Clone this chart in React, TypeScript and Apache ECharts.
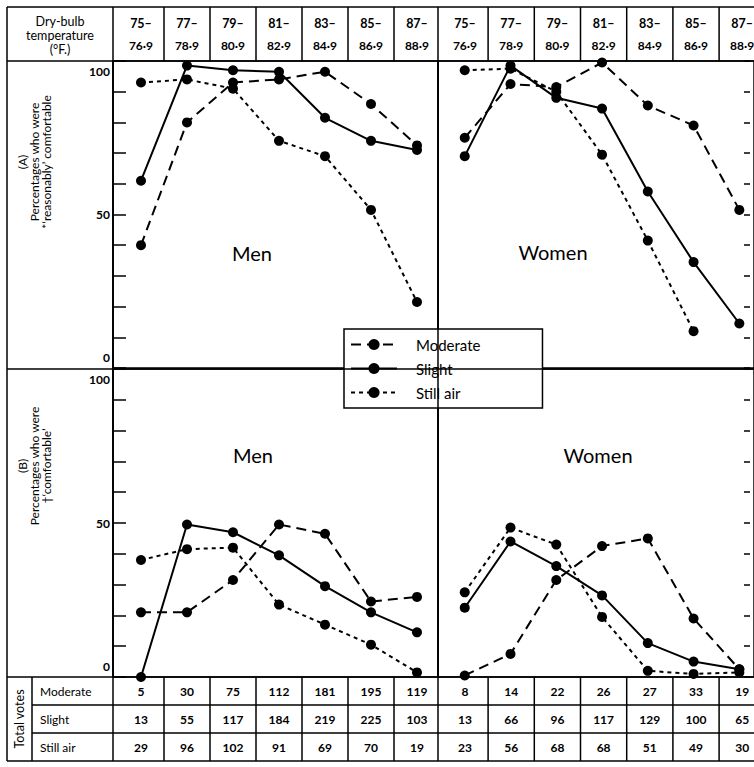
import React, { useEffect, useRef } from "react";
import * as echarts from "echarts";

// ---------- data ----------
const tempFrom = ["75–", "77–", "79–", "81–", "83–", "85–", "87–"];
const tempTo = ["76·9", "78·9", "80·9", "82·9", "84·9", "86·9", "88·9"];
const seriesNames = ["Moderate", "Slight", "Still air"];
const yTickLabels = [0, 50, 100];

// (A) percentages 'reasonably' comfortable
const menA_moderate = [40, 80, 93, 94, 96.5, 86, 72.5];
const menA_slight = [61, 98.5, 97, 96.5, 81.5, 74, 71];
const menA_still = [93, 94, 91, 74, 69, 51.5, 21.5];
const womenA_moderate = [75, 92.5, 91.5, 99.5, 85.5, 79, 51.5];
const womenA_slight = [69, 98.5, 88, 84.5, 57.5, 34.5, 14.5];
const womenA_still = [97, 97.5, 90, 69.5, 41.5, 12, null];

// (B) percentages 'comfortable'
const menB_moderate = [21, 21, 31.5, 49.5, 46.5, 24.5, 26];
const menB_slight = [0, 49.5, 47, 39.5, 29.5, 21, 14.5];
const menB_still = [38, 41.5, 42, 23.5, 17, 10.5, 1.5];
const womenB_moderate = [0.5, 7.5, 31.5, 42.5, 45, 19, 2.5];
const womenB_slight = [22.5, 44, 36, 26.5, 11, 5, 2.5];
const womenB_still = [27.5, 48.5, 43, 19.5, 2, 1, 1.5];

// Total votes
const menVotesModerate = [5, 30, 75, 112, 181, 195, 119];
const menVotesSlight = [13, 55, 117, 184, 219, 225, 103];
const menVotesStill = [29, 96, 102, 91, 69, 70, 19];
const womenVotesModerate = [8, 14, 22, 26, 27, 33, 19];
const womenVotesSlight = [13, 66, 96, 117, 129, 100, 65];
const womenVotesStill = [23, 56, 68, 68, 51, 49, 30];

// ---------- layout ----------
const FONT = "Lato, 'Open Sans', 'DejaVu Sans', sans-serif";
const LW = 1.5;
const MEN = { left: 113, right: 438, x0: 141, pitch: 46 };
const WOMEN = { left: 438, right: 757, x0: 465, pitch: 46.2 };
const ROW_A = { top: 61, bottom: 368 };
const ROW_B = { top: 369, bottom: 677 };
const LINE_TYPES: any[] = [[10, 6], "solid", [4, 4]];

const colX = (p: typeof MEN, i: number) => p.x0 + p.pitch * i;

export default function App() {
  const ref = useRef<HTMLDivElement>(null);
  useEffect(() => {
    document.body.style.margin = "0";
    const chart = echarts.init(ref.current!, undefined, { renderer: "svg" });

    const panels = [
      { p: MEN, r: ROW_A, side: "left", data: [menA_moderate, menA_slight, menA_still] },
      { p: WOMEN, r: ROW_A, side: "right", data: [womenA_moderate, womenA_slight, womenA_still] },
      { p: MEN, r: ROW_B, side: "left", data: [menB_moderate, menB_slight, menB_still] },
      { p: WOMEN, r: ROW_B, side: "right", data: [womenB_moderate, womenB_slight, womenB_still] },
    ];

    const grid = panels.map((pn) => ({
      left: pn.p.left,
      width: pn.p.right - pn.p.left,
      top: pn.r.top,
      height: pn.r.bottom - pn.r.top,
      show: true,
      borderColor: "#000",
      borderWidth: LW,
      backgroundColor: "transparent",
    }));

    const xAxis = panels.map((pn, g) => ({
      type: "value",
      gridIndex: g,
      min: -(pn.p.x0 - pn.p.left) / pn.p.pitch,
      max: (pn.p.right - pn.p.x0) / pn.p.pitch,
      show: false,
    }));

    const labelBase = { fontSize: 12, fontFamily: FONT, fontWeight: "bold", color: "#000" };
    const yAxis = panels.map((pn, g) => {
      const isLeft = pn.side === "left";
      return {
        type: "value",
        gridIndex: g,
        min: 0,
        max: 100,
        interval: 10,
        position: pn.side,
        offset: isLeft ? 0 : -4,
        axisLine: { show: isLeft, onZero: false, lineStyle: { color: "#000", width: LW } },
        axisTick: {
          show: true,
          inside: true,
          length: isLeft ? 13 : 6,
          lineStyle: { color: "#000", width: LW },
        },
        splitLine: { show: false },
        axisLabel: {
          show: isLeft,
          interval: 0,
          formatter: (v: number) => {
            if (!yTickLabels.includes(v)) return "";
            if (v === 0) return "{lo|" + v + "}";
            if (v === 100) return "{hi|" + v + "}";
            return "{mid|" + v + "}";
          },
          rich: {
            lo: { ...labelBase, padding: [0, 0, 5, 0] },
            hi: { ...labelBase, padding: [4, 0, 0, 0] },
            mid: { ...labelBase },
          },
          ...labelBase,
          margin: 3,
          verticalAlignMinLabel: "bottom",
          verticalAlignMaxLabel: "top",
        },
      };
    });

    const series: any[] = [];
    panels.forEach((pn, g) => {
      pn.data.forEach((vals, k) => {
        series.push({
          type: "line",
          name: seriesNames[k],
          xAxisIndex: g,
          yAxisIndex: g,
          data: vals.map((v, i) => (v == null ? null : [i, v])).filter((d) => d),
          symbol: "circle",
          symbolSize: 10,
          itemStyle: { color: "#000" },
          lineStyle: { color: "#000", width: 2, type: LINE_TYPES[k] },
          z: 3,
        });
      });
    });

    const graphic: any[] = [];
    const line = (x1: number, y1: number, x2: number, y2: number) =>
      graphic.push({ type: "line", shape: { x1, y1, x2, y2 }, style: { stroke: "#000", lineWidth: LW }, z: 20 });
    const text = (x: number, y: number, t: string, fs: number, extra: any = {}) =>
      graphic.push({
        type: "text",
        x,
        y,
        z: 21,
        style: { text: t, fontSize: fs, fontFamily: FONT, fill: "#000", align: "center", verticalAlign: "middle", ...extra.style },
        rotation: extra.rotation || 0,
      });

    // frame lines
    line(7, 7, 7, 761);
    line(7, 7, 762, 7);
    line(7, 61, 762, 61);
    line(7, 369, 762, 369);
    line(7, 677, 762, 677);
    line(32, 705, 762, 705);
    line(32, 733, 762, 733);
    line(7, 761, 762, 761);
    line(32, 677, 32, 761);
    line(113, 7, 113, 761);
    line(438, 7, 438, 761);

    [MEN, WOMEN].forEach((p) => {
      for (let i = 0; i < 6; i++) {
        const bx = p.x0 + p.pitch * (i + 0.5);
        line(bx, 7, bx, 61);
        line(bx, 677, bx, 761);
      }
    });

    // header
    text(60, 35, "Dry-bulb\ntemperature\n(°F.)", 12.5, { style: { lineHeight: 14 } });
    [MEN, WOMEN].forEach((p) => {
      for (let i = 0; i < 7; i++) {
        text(colX(p, i), 23, tempFrom[i], 12.5, { style: { fontWeight: "bold" } });
        text(colX(p, i), 45, tempTo[i], 12, { style: { fontWeight: "bold" } });
      }
    });

    // axis titles
    text(34, 162, "(A)\nPercentages who were\n*‘reasonably’ comfortable", 12, {
      rotation: Math.PI / 2,
      style: { lineHeight: 12 },
    });
    text(34, 466, "(B)\nPercentages who were\n†‘comfortable’", 12, {
      rotation: Math.PI / 2,
      style: { lineHeight: 12 },
    });

    // panel labels
    text(252, 253, "Men", 20);
    text(553, 252, "Women", 20);
    text(253, 455, "Men", 20);
    text(598, 455, "Women", 20);

    // table
    text(19, 719, "Total votes", 12.5, { rotation: Math.PI / 2 });
    const rowsY = [691, 719, 747];
    seriesNames.forEach((n, k) => text(40, rowsY[k], n, 12, { style: { align: "left" } }));
    const menVotes = [menVotesModerate, menVotesSlight, menVotesStill];
    const womenVotes = [womenVotesModerate, womenVotesSlight, womenVotesStill];
    [
      { p: MEN, v: menVotes },
      { p: WOMEN, v: womenVotes },
    ].forEach(({ p, v }) => {
      v.forEach((row, k) =>
        row.forEach((val, i) => text(colX(p, i), rowsY[k], String(val), 12, { style: { fontWeight: "bold" } }))
      );
    });

    chart.setOption({
      animation: false,
      backgroundColor: "#fff",
      grid,
      xAxis,
      yAxis,
      series,
      legend: {
        data: seriesNames,
        orient: "vertical",
        left: 344,
        top: 329,
        padding: [8, 62, 8, 6],
        itemWidth: 46,
        itemHeight: 14,
        itemGap: 9,
        backgroundColor: "#fff",
        borderColor: "#000",
        borderWidth: LW,
        selectedMode: false,
        z: 10,
        textStyle: { fontSize: 15, fontFamily: FONT, color: "#000", padding: [0, 0, 0, 14] },
      },
      graphic,
    });
    return () => chart.dispose();
  }, []);
  return <div ref={ref} style={{ position: "absolute", left: 0, top: 0, width: 754, height: 767 }} />;
}
